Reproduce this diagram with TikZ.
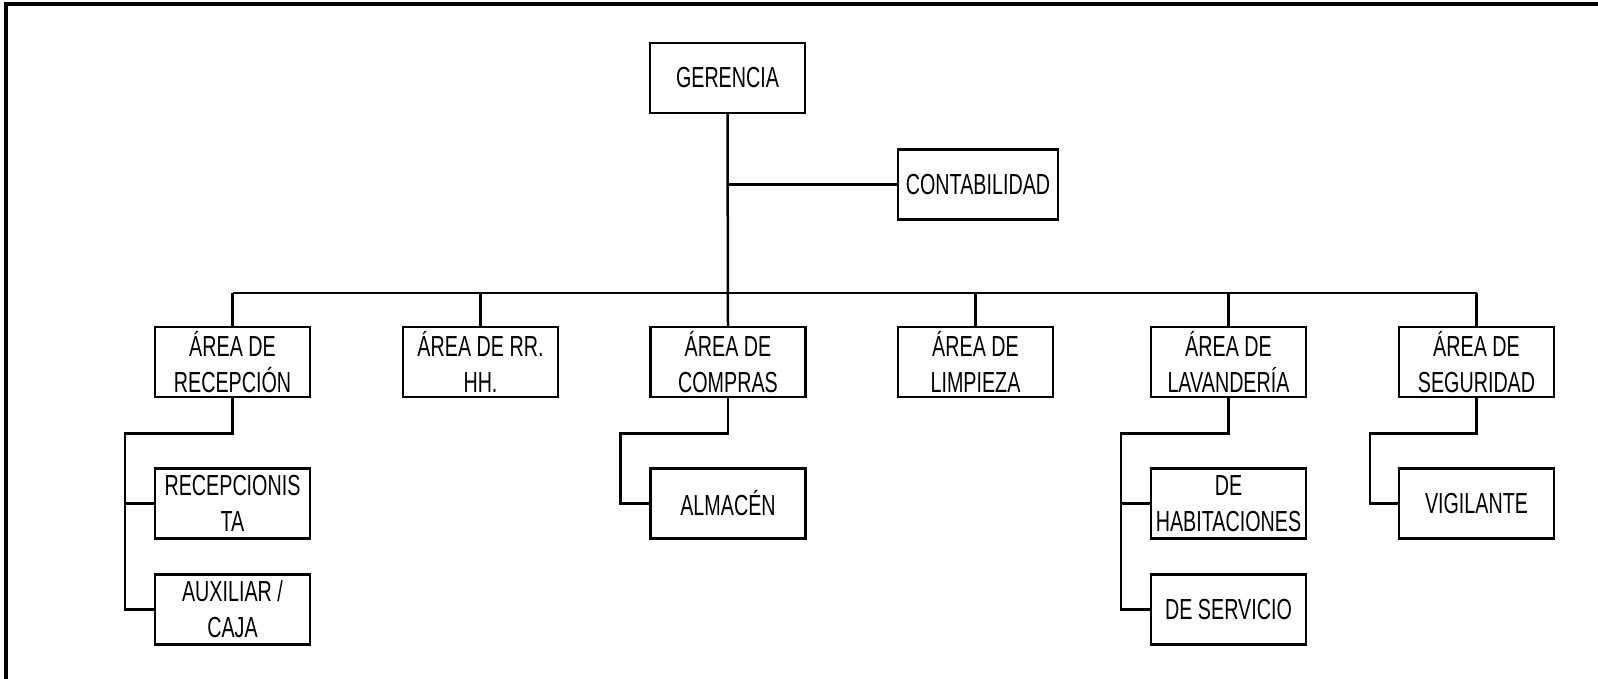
\documentclass[tikz,border=0pt]{standalone}
\usepackage{fontspec}
\setmainfont{Liberation Sans}[FakeStretch=0.68]

\begin{document}
\begin{tikzpicture}[x=1pt,y=-1pt]
        \tikzset{
            caja/.style={
                draw,
                line width=2.5pt,
                minimum width=155pt,
                minimum height=70pt,
                inner sep=0pt,
                align=center,
                font=\fontsize{29}{36}\selectfont
            },
            linea/.style={line width=2.5pt}
        }
        \useasboundingbox (0,0) rectangle (1598,679);

        %marco
        \draw[line width=4pt] (6,685) -- (6,4) -- (1604,4);

        %niveles
        \node[caja] (gerencia) at (727.5,78) {GERENCIA};
        \node[caja, minimum width=160pt] (contab) at (978,184.5) {CONTABILIDAD};

        \node[caja] (recep) at (232.5,362) {ÁREA DE\\RECEPCIÓN};
        \node[caja] (rrhh) at (480.5,362) {ÁREA DE RR.\\HH.};
        \node[caja] (compras) at (728,362) {ÁREA DE\\COMPRAS};
        \node[caja] (limpieza) at (975.5,362) {ÁREA DE\\LIMPIEZA};
        \node[caja] (lavand) at (1228.5,362) {ÁREA DE\\LAVANDERÍA};
        \node[caja] (segur) at (1476.5,362) {ÁREA DE\\SEGURIDAD};

        \node[caja] (recepcionista) at (232.5,503.5) {RECEPCIONIS\\TA};
        \node[caja] (auxiliar) at (232.5,609.5) {AUXILIAR /\\CAJA};
        \node[caja] (almacen) at (728,503.5) {ALMACÉN};
        \node[caja] (habit) at (1228.5,503.5) {DE\\HABITACIONES};
        \node[caja] (servicio) at (1228.5,609.5) {DE SERVICIO};
        \node[caja] (vigilante) at (1476.5,503.5) {VIGILANTE};

        %conexiones
        \coordinate (bus) at (0,293);
        \draw[linea] (gerencia.south) -- (compras.north);
        \draw[linea] (gerencia.south |- contab.west) -- (contab.west);
        \draw[linea] (recep.north |- bus) -- (segur.north |- bus);
        \draw[linea] (recep.north) -- (recep.north |- bus);
        \draw[linea] (rrhh.north) -- (rrhh.north |- bus);
        \draw[linea] (limpieza.north) -- (limpieza.north |- bus);
        \draw[linea] (lavand.north) -- (lavand.north |- bus);
        \draw[linea] (segur.north) -- (segur.north |- bus);

        \draw[linea] (recep.south) -- ++(0,35) -| ([xshift=-29pt]auxiliar.west) -- (auxiliar.west);
        \draw[linea] (recepcionista.west) -- ++(-29,0);
        \draw[linea] (compras.south) -- ++(0,35) -| ([xshift=-29pt]almacen.west) -- (almacen.west);
        \draw[linea] (lavand.south) -- ++(0,35) -| ([xshift=-29pt]servicio.west) -- (servicio.west);
        \draw[linea] (habit.west) -- ++(-29,0);
        \draw[linea] (segur.south) -- ++(0,35) -| ([xshift=-28pt]vigilante.west) -- (vigilante.west);

\end{tikzpicture}
\end{document}
